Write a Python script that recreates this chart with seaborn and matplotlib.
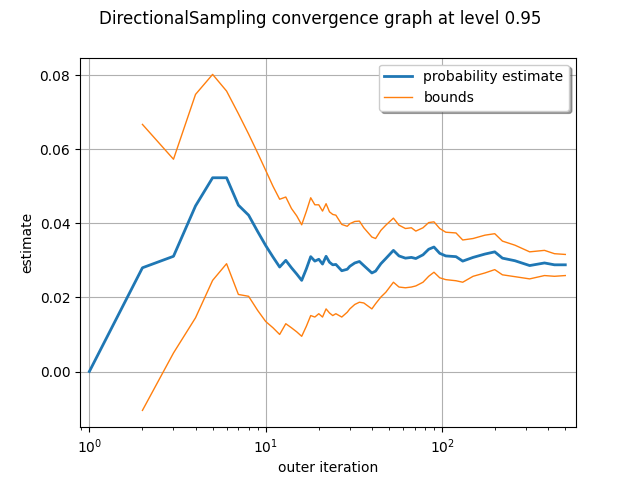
import matplotlib
matplotlib.use('Agg')
import matplotlib.pyplot as plt
import seaborn as sns

# outer iteration index and the estimate
est_iter = [1, 2, 3, 4, 5, 6, 7, 8, 9, 10, 11, 12, 13, 14, 15, 16, 17, 18, 19, 20,
            21, 22, 23, 24, 25, 27, 29, 30, 32, 34, 36, 40, 42, 45, 48, 53, 57, 62,
            67, 71, 78, 84, 90, 97, 105, 120, 131, 150, 175, 199, 220, 259, 314,
            381, 434, 500]
estimate = [0.0, 0.0280, 0.0311, 0.0447, 0.0523, 0.0523, 0.0449, 0.0422, 0.0378,
            0.0340, 0.0309, 0.0282, 0.0300, 0.0280, 0.0263, 0.0246, 0.0277, 0.0310,
            0.0298, 0.0303, 0.0290, 0.0311, 0.0295, 0.0288, 0.0289, 0.0272, 0.0276,
            0.0284, 0.0293, 0.0297, 0.0286, 0.0266, 0.0271, 0.0291, 0.0305, 0.0327,
            0.0312, 0.0306, 0.0308, 0.0305, 0.0315, 0.0330, 0.0336, 0.0319, 0.0312,
            0.0310, 0.0298, 0.0308, 0.0317, 0.0323, 0.0306, 0.0299, 0.0286, 0.0293,
            0.0288, 0.0288]

# confidence bounds start at the second iteration
bound_iter = est_iter[1:]
upper = [0.0667, 0.0573, 0.0748, 0.0802, 0.0757, 0.0696, 0.0641, 0.0590, 0.0543,
         0.0500, 0.0465, 0.0471, 0.0440, 0.0420, 0.0396, 0.0432, 0.0469, 0.0450,
         0.0450, 0.0433, 0.0453, 0.0431, 0.0424, 0.0422, 0.0397, 0.0392, 0.0399,
         0.0405, 0.0406, 0.0388, 0.0363, 0.0359, 0.0381, 0.0395, 0.0414, 0.0395,
         0.0386, 0.0388, 0.0379, 0.0388, 0.0402, 0.0404, 0.0386, 0.0376, 0.0374,
         0.0355, 0.0359, 0.0368, 0.0372, 0.0352, 0.0341, 0.0323, 0.0327, 0.0318,
         0.0316]
lower = [-0.0105, 0.0050, 0.0145, 0.0246, 0.0291, 0.0208, 0.0203, 0.0165, 0.0135,
         0.0118, 0.0100, 0.0129, 0.0118, 0.0107, 0.0095, 0.0122, 0.0151, 0.0147,
         0.0156, 0.0147, 0.0169, 0.0158, 0.0151, 0.0156, 0.0147, 0.0160, 0.0169,
         0.0181, 0.0187, 0.0185, 0.0169, 0.0183, 0.0201, 0.0214, 0.0241, 0.0228,
         0.0226, 0.0228, 0.0231, 0.0241, 0.0257, 0.0268, 0.0253, 0.0248, 0.0245,
         0.0241, 0.0257, 0.0266, 0.0275, 0.0261, 0.0256, 0.0250, 0.0259, 0.0257,
         0.0259]

fig, ax = plt.subplots(figsize=(6.4, 4.8), dpi=100)

sns.lineplot(x=est_iter, y=estimate, ax=ax, color='#1f77b4', linewidth=2,
             estimator=None, sort=False, label='probability estimate')
sns.lineplot(x=bound_iter, y=lower, ax=ax, color='#ff7f0e', linewidth=1,
             estimator=None, sort=False, label='bounds')
sns.lineplot(x=bound_iter, y=upper, ax=ax, color='#ff7f0e', linewidth=1,
             estimator=None, sort=False, label='_nolegend_')

ax.set_xscale('log')
ax.set_xlim(0.885, 575)
ax.grid(True)
ax.set_xlabel('outer iteration')
ax.set_ylabel('estimate')
ax.legend(loc='upper right', shadow=True)
fig.suptitle('DirectionalSampling convergence graph at level 0.95')

plt.savefig('out.png')
